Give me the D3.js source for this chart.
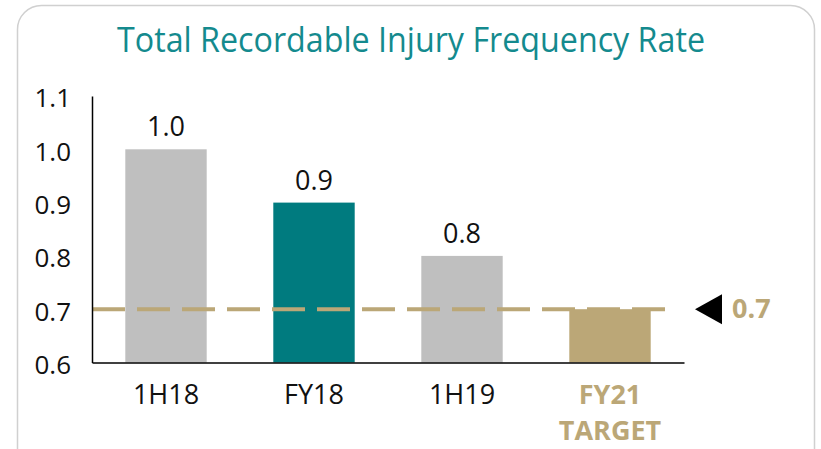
<!DOCTYPE html>
<html>
<head>
<meta charset="utf-8">
<script src="https://cdn.jsdelivr.net/npm/d3@7/dist/d3.min.js"></script>
<style>
  body { margin: 0; background: #fff; }
  svg { display: block; font-family: "Open Sans", sans-serif; }
</style>
</head>
<body>
<svg id="chart" width="821" height="449"></svg>
<script>
// data
const categories = ["1H18", "FY18", "1H19", "FY21 TARGET"];
const values = [1.0, 0.9, 0.8, 0.7];
const valueLabels = ["1.0", "0.9", "0.8", ""];
const yTicks = [0.6, 0.7, 0.8, 0.9, 1.0, 1.1];
const targetValue = 0.7;

const colGray = "#bfbfbf", colTeal = "#007b7f", colTan = "#bba777";
const barColors = [colGray, colTeal, colGray, colTan];

const svg = d3.select("#chart");

// rounded frame
svg.append("rect")
    .attr("x", 17.5).attr("y", 5.5)
    .attr("width", 797).attr("height", 470)
    .attr("rx", 24).attr("ry", 24)
    .attr("fill", "none").attr("stroke", "#d0d0d0").attr("stroke-width", 1.5);

// title
svg.append("text")
    .attr("x", 411).attr("y", 52)
    .attr("text-anchor", "middle")
    .attr("fill", "#148a8e")
    .style("font-size", "34px")
    .attr("textLength", 588).attr("lengthAdjust", "spacingAndGlyphs")
    .text("Total Recordable Injury Frequency Rate");

const x = d3.scaleBand().domain(categories).range([92, 684]).paddingInner(0.45).paddingOuter(0.225);
const y = d3.scaleLinear().domain([0.6, 1.1]).range([362.5, 96]);

// bars
svg.selectAll("rect.bar").data(values).enter()
    .append("rect").attr("class", "bar")
    .attr("x", (d, i) => x(categories[i]))
    .attr("width", x.bandwidth())
    .attr("y", d => y(d))
    .attr("height", d => y(0.6) - y(d))
    .attr("fill", (d, i) => barColors[i]);

// value labels
svg.selectAll("text.val").data(values).enter()
    .append("text").attr("class", "val")
    .attr("x", (d, i) => x(categories[i]) + x.bandwidth() / 2)
    .attr("y", d => y(d) - 13)
    .attr("text-anchor", "middle")
    .style("font-size", "27px")
    .attr("fill", "#111")
    .text((d, i) => valueLabels[i]);

// target dashed line
svg.append("line")
    .attr("x1", 92).attr("x2", 675)
    .attr("y1", y(targetValue)).attr("y2", y(targetValue))
    .attr("stroke", colTan).attr("stroke-width", 4)
    .attr("stroke-dasharray", "33,12");

// y axis
const yAxis = svg.append("g").attr("transform", "translate(92,0)")
    .call(d3.axisLeft(y).tickValues(yTicks).tickFormat(d3.format(".1f")).tickSize(0).tickPadding(21));
yAxis.select(".domain").attr("stroke", "#000").attr("stroke-width", 1.5);
yAxis.selectAll("text")
    .style("font-size", "26px").style("font-family", "'Open Sans', sans-serif")
    .attr("fill", "#111").attr("dy", "0.42em");

// x axis
const xAxis = svg.append("g").attr("transform", `translate(0,${y(0.6)})`)
    .call(d3.axisBottom(x).tickSize(0).tickSizeOuter(0).tickFormat(""));
xAxis.select(".domain").attr("stroke", "#000").attr("stroke-width", 1.5);

svg.selectAll("text.cat").data(categories).enter()
    .append("text").attr("class", "cat")
    .attr("x", d => x(d) + x.bandwidth() / 2)
    .attr("y", 404)
    .attr("text-anchor", "middle")
    .style("font-size", "27px")
    .style("font-weight", (d, i) => i === 3 ? "bold" : "normal")
    .attr("fill", (d, i) => i === 3 ? colTan : "#111")
    .each(function(d) {
        const parts = d.split(" ");
        const t = d3.select(this);
        parts.forEach((p, k) => {
            t.append("tspan").attr("x", t.attr("x")).attr("dy", k === 0 ? 0 : 36).text(p);
        });
    });

// target marker
const ty = y(targetValue);
svg.append("path")
    .attr("d", `M695,${ty} L722,${ty - 15} L722,${ty + 15} Z`)
    .attr("fill", "#000");
svg.append("text")
    .attr("x", 732).attr("y", ty + 9)
    .style("font-size", "27px").style("font-weight", "bold")
    .attr("fill", colTan)
    .text(targetValue.toFixed(1));
</script>
</body>
</html>
